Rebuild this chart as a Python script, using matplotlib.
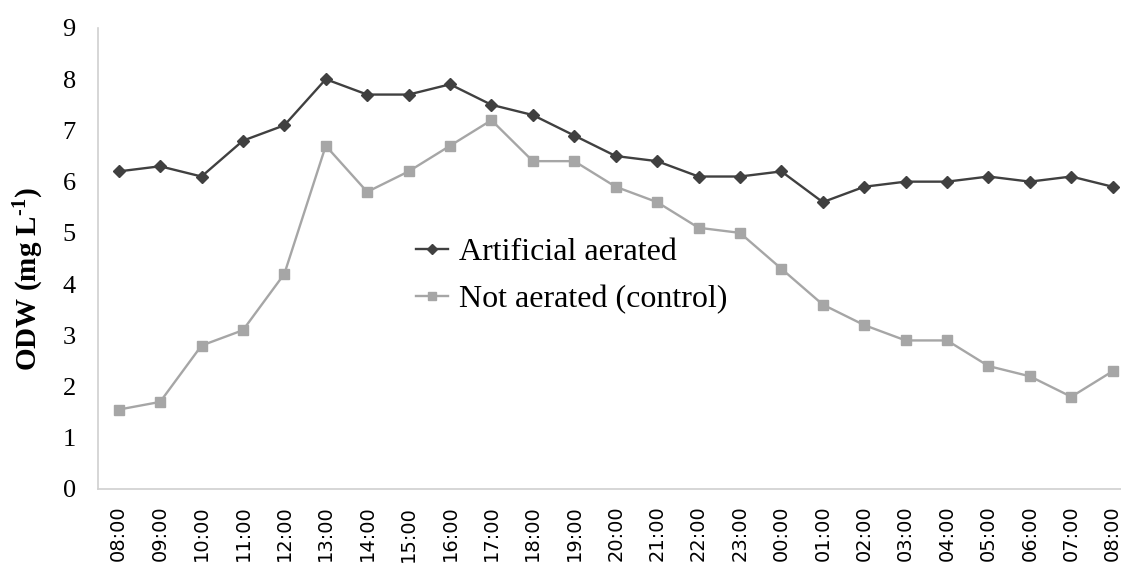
import matplotlib
matplotlib.use("Agg")
import matplotlib.pyplot as plt

times = ["08:00", "09:00", "10:00", "11:00", "12:00", "13:00", "14:00", "15:00",
         "16:00", "17:00", "18:00", "19:00", "20:00", "21:00", "22:00", "23:00",
         "00:00", "01:00", "02:00", "03:00", "04:00", "05:00", "06:00", "07:00", "08:00"]
aerated = [6.2, 6.3, 6.1, 6.8, 7.1, 8.0, 7.7, 7.7, 7.9, 7.5, 7.3, 6.9, 6.5, 6.4,
           6.1, 6.1, 6.2, 5.6, 5.9, 6.0, 6.0, 6.1, 6.0, 6.1, 5.9]
control = [1.55, 1.7, 2.8, 3.1, 4.2, 6.7, 5.8, 6.2, 6.7, 7.2, 6.4, 6.4, 5.9, 5.6,
           5.1, 5.0, 4.3, 3.6, 3.2, 2.9, 2.9, 2.4, 2.2, 1.8, 2.3]
yticks = list(range(0, 10))

plt.rcParams["mathtext.fontset"] = "custom"
plt.rcParams["mathtext.rm"] = "Liberation Serif:bold"
plt.rcParams["mathtext.bf"] = "Liberation Serif:bold"
plt.rcParams["mathtext.it"] = "Liberation Serif:bold"

fig = plt.figure(figsize=(11.21, 5.78), dpi=100)
ax = fig.add_axes([0.0874, 0.154, 0.9126, 0.7976])
x = list(range(len(times)))
ax.plot(x, aerated, color="#404040", marker="D", markersize=6.5, linewidth=1.7,
        label="Artificial aerated")
ax.plot(x, control, color="#A6A6A6", marker="s", markersize=7, linewidth=1.7,
        label="Not aerated (control)")

ax.set_xlim(-0.5, 24.2)
ax.set_ylim(0, 9)
ax.set_yticks(yticks)
ax.set_yticklabels([str(v) for v in yticks], fontfamily="Liberation Serif", fontsize=19)
ax.set_xticks(x)
ax.set_xticklabels(times, rotation=90, fontfamily="DejaVu Sans", fontsize=14)
ax.tick_params(axis="both", length=0)
ax.tick_params(axis="y", pad=16)
ax.tick_params(axis="x", pad=12)
for s in ["top", "right"]:
    ax.spines[s].set_visible(False)
for s in ["left", "bottom"]:
    ax.spines[s].set_color("#D0D0D0")
    ax.spines[s].set_linewidth(1.2)

ax.set_ylabel("ODW (mg L$^{\\text{-1}}$)", fontfamily="Liberation Serif",
              fontsize=21, fontweight="bold")
ax.yaxis.set_label_coords(-0.051, 0.455)

leg = ax.legend(loc="center left", bbox_to_anchor=(0.283, 0.462), frameon=False,
                prop={"family": "Liberation Serif", "size": 23}, handlelength=1.0,
                handletextpad=0.35, labelspacing=0.55, markerscale=0.75)

fig.savefig("out.png", dpi=100)
